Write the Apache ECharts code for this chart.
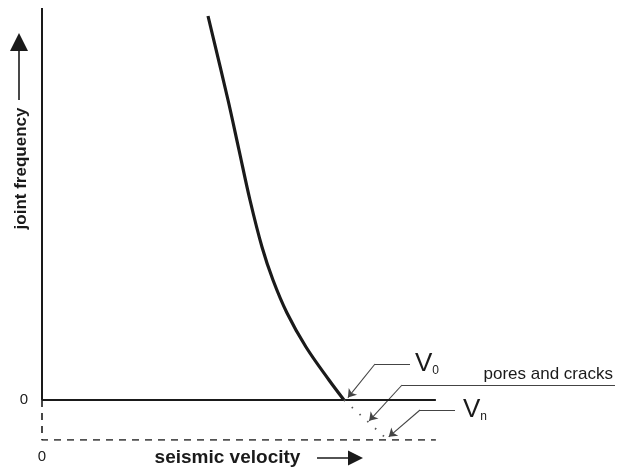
<!DOCTYPE html>
<html>
<head>
<meta charset="utf-8">
<script src="https://cdn.jsdelivr.net/npm/echarts@6/dist/echarts.min.js"></script>
<style>
html,body{margin:0;padding:0;background:#fff;}
#chart{width:619px;height:470px;}
</style>
</head>
<body>
<div id="chart"></div>
<script>
// ---- data (chart units: x = relative seismic velocity, y = relative joint frequency) ----
const curveX = [28.87, 32.35, 34.26, 36.17, 38.26, 40.17, 42.61, 45.91, 49.91, 52.52];
const curveY = [9.6, 7.5, 6.25, 5.0, 3.825, 3.0, 2.175, 1.325, 0.5, 0];
const extensionX = [52.52, 60.17];
const extensionY = [0, -1];
const zeroLineX = [0, 68.5];
const zeroLineY = [0, 0];
const yAxisLineX = [0, 0];
const yAxisLineY = [0, 9.8];
const dashedX = [0, 0, 68.5];
const dashedY = [0, -1, -1];
const xTickLabels = [0];
const yTickLabels = [0];
const annotationNames = ['V0', 'pores and cracks', 'Vn'];
const annotationLabelX = [64.0, 99.65, 71.83];
const annotationCornerX = [57.91, 62.61, 65.74];
const annotationCornerY = [0.9, 0.375, -0.25];
const annotationTipX = [53.2, 56.9, 60.3];
const annotationTipY = [0.06, -0.52, -0.92];
const xArrowX = [47.83, 54.52];
const xArrowY = [-1.45, -1.45];
const yArrowX = [-4.0, -4.0];
const yArrowY = [7.5, 8.95];

const pairs = (xs, ys) => xs.map((x, i) => [x, ys[i]]);
const ink = '#1a1a1a';
const font = 'Liberation Sans';

const labelFormatters = {
  'V0': '{v|V}{s|0}',
  'Vn': '{v|V}{s|n}',
  'pores and cracks': '{p|pores and cracks}'
};
const richStyles = {
  v: {fontSize: 26, lineHeight: 26, fontFamily: font, color: ink},
  s: {fontSize: 12, lineHeight: 26, verticalAlign: 'bottom', fontFamily: font, color: ink},
  p: {fontSize: 17, fontFamily: font, color: ink}
};

const leaderHorizontal = annotationNames.map((name, i) => ({
  name: name,
  coords: [[annotationCornerX[i], annotationCornerY[i]], [annotationLabelX[i], annotationCornerY[i]]],
  label: name === 'pores and cracks'
    ? {show: true, position: 'insideEndTop', distance: 2, formatter: labelFormatters[name], rich: richStyles}
    : {show: true, position: 'end', distance: name === 'V0' ? 5 : 8, formatter: labelFormatters[name], rich: richStyles}
}));
const leaderDiagonal = annotationNames.map((name, i) => ({
  coords: [[annotationCornerX[i], annotationCornerY[i]], [annotationTipX[i], annotationTipY[i]]]
}));

const chart = echarts.init(document.getElementById('chart'), null, {renderer: 'canvas'});
chart.setOption({
  animation: false,
  backgroundColor: '#fff',
  grid: {left: 42, right: 2, top: 8, bottom: 30, containLabel: false, outerBoundsMode: 'none'},
  xAxis: {
    type: 'value', min: 0, max: 100,
    name: 'seismic velocity', nameLocation: 'middle', nameGap: 8, nameMoveOverlap: false,
    nameTextStyle: {fontSize: 19, fontWeight: 'bold', fontFamily: font, color: ink, padding: [0, 204, 0, 0]},
    axisLine: {show: false}, axisTick: {show: false}, splitLine: {show: false},
    axisLabel: {customValues: xTickLabels, margin: 9, fontSize: 15, fontFamily: font, color: ink}
  },
  yAxis: {
    type: 'value', min: -1, max: 9.8,
    name: 'joint frequency', nameLocation: 'middle', nameGap: 12, nameMoveOverlap: false,
    nameTextStyle: {fontSize: 17, fontWeight: 'bold', fontFamily: font, color: ink, padding: [0, 0, 0, 111]},
    axisLine: {show: false}, axisTick: {show: false}, splitLine: {show: false},
    axisLabel: {customValues: yTickLabels, margin: 14, fontSize: 15, fontFamily: font, color: ink}
  },
  series: [
    {type: 'line', data: pairs(yAxisLineX, yAxisLineY), showSymbol: false, lineStyle: {color: ink, width: 2}, silent: true},
    {type: 'line', data: pairs(zeroLineX, zeroLineY), showSymbol: false, lineStyle: {color: ink, width: 2}, silent: true},
    {type: 'line', data: pairs(dashedX, dashedY), showSymbol: false, lineStyle: {color: ink, width: 1.6, type: [7, 6]}, silent: true},
    {type: 'line', data: pairs(curveX, curveY), showSymbol: false, smooth: 0.35, lineStyle: {color: ink, width: 3.2}, silent: true},
    {type: 'line', data: pairs(extensionX, extensionY), showSymbol: false, lineStyle: {color: '#555', width: 1.8, type: [1.5, 9]}, silent: true},
    {type: 'lines', coordinateSystem: 'cartesian2d', clip: false, silent: true,
      lineStyle: {color: '#444', width: 1.1, opacity: 1}, symbol: ['none', 'none'],
      data: leaderHorizontal},
    {type: 'lines', coordinateSystem: 'cartesian2d', clip: false, silent: true,
      lineStyle: {color: '#444', width: 1.1, opacity: 1}, symbol: ['none', 'arrow'], symbolSize: 8,
      data: leaderDiagonal},
    {type: 'lines', coordinateSystem: 'cartesian2d', clip: false, silent: true,
      lineStyle: {color: ink, width: 1.6, opacity: 1}, symbol: ['none', 'triangle'], symbolSize: [12, 15],
      data: [{coords: pairs(xArrowX, xArrowY)}]},
    {type: 'lines', coordinateSystem: 'cartesian2d', clip: false, silent: true,
      lineStyle: {color: ink, width: 1.6, opacity: 1}, symbol: ['none', 'triangle'], symbolSize: [13, 18],
      data: [{coords: pairs(yArrowX, yArrowY)}]}
  ]
});
</script>
</body>
</html>
